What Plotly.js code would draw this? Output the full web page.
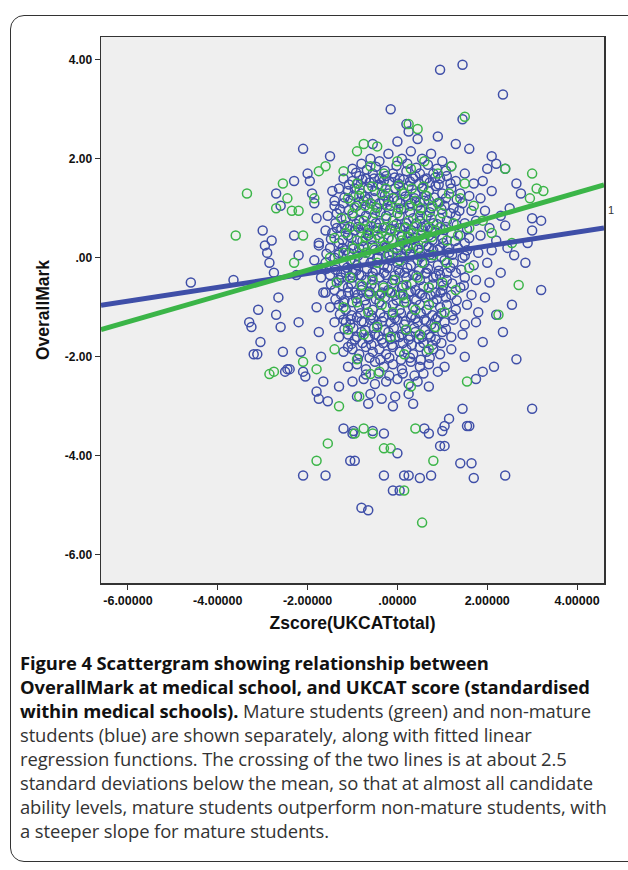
<!DOCTYPE html>
<html>
<head>
<meta charset="utf-8">
<script src="https://cdn.plot.ly/plotly-3.0.1.min.js"></script>
<style>
  body { margin: 0; background: #fff; font-family: "Open Sans", sans-serif; }
  #frame { position: absolute; left: 10px; top: 15px; width: 640px; height: 845px;
           border: 1.5px solid #333; border-radius: 14px; }
  #grafico { position: absolute; left: 0; top: 0; width: 628px; height: 650px; }
  #caption { position: absolute; left: 20px; top: 651px; width: 600px; white-space: nowrap;
             font-size: 18.4px; line-height: 24px; color: #333; letter-spacing: -0.1px; }
  #caption b { color: #111; }
</style>
</head>
<body>
<div id="frame"></div>
<div id="grafico"></div>
<div id="caption"><b>Figure 4 Scattergram showing relationship between<br>OverallMark at medical school, and UKCAT score (standardised<br>within medical schools).</b> Mature students (green) and non-mature<br>students (blue) are shown separately, along with fitted linear<br>regression functions. The crossing of the two lines is at about 2.5<br>standard deviations below the mean, so that at almost all candidate<br>ability levels, mature students outperform non-mature students, with<br>a steeper slope for mature students.</div>
<script>
// non-mature students (blue): [zscore, overall mark]
const bluePts = [
  [-4.6,-0.5],[-3.65,-0.45],[-3.3,-1.3],[-3.25,-1.4],[-3.2,-1.95],[-3.12,-1.95],[-3.05,-1.7],[-3.1,-1.05],
  [-3.0,0.55],[-2.95,0.25],[-2.9,0.1],[-2.85,-0.1],[-2.8,0.35],[-2.75,-0.3],[-2.7,-1.15],[-2.65,-0.8],
  [-2.6,-1.4],[-2.55,-1.9],[-2.5,-2.3],[-2.45,-2.25],[-2.4,-2.25],[-2.7,1.3],[-2.6,1.05],[-2.3,1.55],
  [-2.3,0.45],[-2.25,-0.35],[-2.2,0.05],[-2.2,-1.3],[-2.15,-1.9],[-2.1,-2.3],[-2.05,-2.4],[-2.1,2.2],
  [-2.0,1.7],[-1.95,1.55],[-1.9,1.3],[-1.85,1.1],[-1.8,0.8],[-1.75,0.3],[-1.7,-0.2],[-1.65,-0.7],
  [-1.8,-1.0],[-1.75,-1.5],[-1.7,-2.0],[-1.65,-2.5],[-1.8,-2.7],[-1.75,-2.85],[-1.55,-2.9],[-1.5,2.05],
  [-1.45,1.35],[-1.4,1.05],[-1.35,0.6],[-1.3,0.1],[-1.25,-0.4],[-1.2,-0.9],[-1.15,-1.3],[-1.1,-1.8],
  [-1.3,-2.6],[-1.2,-3.45],[-1.0,-3.55],[-0.98,-3.5],[-1.05,-4.1],[-0.95,-4.1],[-2.1,-4.4],[-1.6,-4.4],
  [-0.8,-5.05],[-0.65,-5.1],[-0.3,-3.55],[-0.55,-3.5],[-0.3,-4.4],[-0.1,-4.7],[0.05,-4.7],[0.0,-3.95],
  [0.15,-4.4],[0.25,-4.4],[0.5,-4.45],[0.75,-4.4],[0.6,-3.45],[0.7,-3.55],[0.95,-3.8],[1.05,-3.8],
  [1.0,-3.5],[1.15,-3.25],[1.05,-3.4],[1.4,-4.15],[1.65,-4.15],[1.7,-4.45],[2.4,-4.4],[1.45,-3.05],
  [1.55,-3.4],[3.0,-3.05],[1.6,-3.4],[2.65,-2.05],[0.95,3.8],[1.45,3.9],[2.35,3.3],[-0.15,3.0],
  [1.45,2.8],[0.2,2.7],[0.25,2.55],[0.9,2.45],[1.3,2.3],[-0.55,2.3],[0.0,2.35],[0.45,2.4],
  [2.0,1.8],[2.2,1.9],[2.4,1.8],[2.65,1.5],[2.75,1.3],[2.5,1.0],[3.0,0.8],[3.0,0.55],
  [2.9,0.3],[2.6,0.05],[2.85,-0.1],[3.2,-0.65],[2.55,-0.95],[2.2,-1.15],[2.35,-1.5],[1.9,-1.7],
  [2.15,-2.2],[1.75,-2.45],[1.9,-2.3],[3.2,0.75],[2.1,2.05],[1.6,2.2],
  // dense core
  [-1.0,1.8],[-0.8,1.9],[-0.6,2.0],[-0.4,1.95],[-0.2,2.1],[0.1,2.0],[0.3,2.15],[0.55,2.0],[0.75,2.1],[1.0,1.95],[1.2,1.85],[1.5,1.7],
  [-1.2,1.6],[-1.0,1.55],[-0.85,1.65],[-0.7,1.6],[-0.55,1.7],[-0.4,1.6],[-0.25,1.65],[-0.1,1.7],[0.05,1.6],[0.2,1.75],[0.35,1.6],[0.5,1.7],[0.65,1.6],[0.8,1.7],[0.95,1.6],[1.1,1.65],[1.3,1.55],[1.7,1.5],[1.9,1.55],
  [-1.3,1.4],[-1.1,1.35],[-0.95,1.4],[-0.8,1.3],[-0.65,1.4],[-0.5,1.35],[-0.35,1.45],[-0.2,1.3],[-0.05,1.4],[0.1,1.35],[0.25,1.45],[0.4,1.3],[0.55,1.4],[0.7,1.35],[0.85,1.45],[1.0,1.3],[1.2,1.4],[1.4,1.3],[1.6,1.25],[1.85,1.2],[2.1,1.35],
  [-1.4,1.15],[-1.2,1.1],[-1.05,1.15],[-0.9,1.05],[-0.75,1.15],[-0.6,1.1],[-0.45,1.0],[-0.3,1.15],[-0.15,1.05],[0.0,1.15],[0.15,1.0],[0.3,1.1],[0.45,1.05],[0.6,1.15],[0.75,1.0],[0.9,1.1],[1.05,1.05],[1.25,1.0],[1.45,1.1],[1.65,0.95],[1.95,0.95],[2.3,0.85],
  [-1.55,0.85],[-1.35,0.9],[-1.15,0.8],[-1.0,0.85],[-0.85,0.75],[-0.7,0.85],[-0.55,0.8],[-0.4,0.7],[-0.25,0.85],[-0.1,0.75],[0.05,0.85],[0.2,0.7],[0.35,0.8],[0.5,0.75],[0.65,0.85],[0.8,0.7],[0.95,0.8],[1.1,0.75],[1.3,0.85],[1.5,0.7],[1.75,0.75],[2.05,0.6],[2.4,0.65],
  [-1.6,0.55],[-1.45,0.5],[-1.25,0.6],[-1.1,0.45],[-0.95,0.55],[-0.8,0.5],[-0.65,0.45],[-0.5,0.55],[-0.35,0.5],[-0.2,0.4],[-0.05,0.55],[0.1,0.45],[0.25,0.5],[0.4,0.4],[0.55,0.55],[0.7,0.45],[0.85,0.5],[1.0,0.4],[1.2,0.5],[1.4,0.45],[1.6,0.4],[1.85,0.45],[2.2,0.35],
  [-1.75,0.25],[-1.5,0.2],[-1.3,0.3],[-1.15,0.15],[-1.0,0.25],[-0.85,0.2],[-0.7,0.1],[-0.55,0.25],[-0.4,0.15],[-0.25,0.2],[-0.1,0.1],[0.05,0.25],[0.2,0.15],[0.35,0.2],[0.5,0.1],[0.65,0.25],[0.8,0.15],[0.95,0.2],[1.15,0.1],[1.35,0.2],[1.55,0.15],[1.8,0.1],[2.1,0.15],[2.45,0.2],
  [-1.85,-0.05],[-1.6,-0.1],[-1.4,0.0],[-1.2,-0.1],[-1.05,-0.05],[-0.9,-0.15],[-0.75,-0.05],[-0.6,-0.1],[-0.45,0.0],[-0.3,-0.15],[-0.15,-0.05],[0.0,-0.1],[0.15,0.0],[0.3,-0.15],[0.45,-0.05],[0.6,-0.1],[0.75,0.0],[0.9,-0.15],[1.05,-0.05],[1.25,-0.1],[1.45,0.0],[1.7,-0.15],[2.0,-0.1],[2.3,-0.3],
  [-1.7,-0.4],[-1.5,-0.35],[-1.3,-0.45],[-1.15,-0.3],[-1.0,-0.4],[-0.85,-0.35],[-0.7,-0.45],[-0.55,-0.3],[-0.4,-0.4],[-0.25,-0.35],[-0.1,-0.45],[0.05,-0.3],[0.2,-0.4],[0.35,-0.35],[0.5,-0.45],[0.65,-0.3],[0.8,-0.4],[0.95,-0.35],[1.1,-0.45],[1.3,-0.3],[1.5,-0.4],[1.75,-0.45],[2.05,-0.5],
  [-1.6,-0.7],[-1.4,-0.65],[-1.25,-0.75],[-1.1,-0.6],[-0.95,-0.7],[-0.8,-0.65],[-0.65,-0.75],[-0.5,-0.6],[-0.35,-0.7],[-0.2,-0.65],[-0.05,-0.75],[0.1,-0.6],[0.25,-0.7],[0.4,-0.65],[0.55,-0.75],[0.7,-0.6],[0.85,-0.7],[1.0,-0.65],[1.2,-0.75],[1.4,-0.6],[1.65,-0.75],[1.95,-0.8],
  [-1.5,-1.0],[-1.3,-0.95],[-1.15,-1.05],[-1.0,-0.9],[-0.85,-1.0],[-0.7,-0.95],[-0.55,-1.05],[-0.4,-0.9],[-0.25,-1.0],[-0.1,-0.95],[0.05,-1.05],[0.2,-0.9],[0.35,-1.0],[0.5,-0.95],[0.65,-1.05],[0.8,-0.9],[0.95,-1.0],[1.1,-0.95],[1.3,-1.05],[1.55,-0.95],[1.8,-1.1],
  [-1.4,-1.3],[-1.2,-1.25],[-1.05,-1.35],[-0.9,-1.2],[-0.75,-1.3],[-0.6,-1.25],[-0.45,-1.35],[-0.3,-1.2],[-0.15,-1.3],[0.0,-1.25],[0.15,-1.35],[0.3,-1.2],[0.45,-1.3],[0.6,-1.25],[0.75,-1.35],[0.9,-1.2],[1.05,-1.3],[1.25,-1.25],[1.5,-1.35],[1.75,-1.3],
  [-1.3,-1.6],[-1.1,-1.55],[-0.95,-1.65],[-0.8,-1.5],[-0.65,-1.6],[-0.5,-1.55],[-0.35,-1.65],[-0.2,-1.5],[-0.05,-1.6],[0.1,-1.55],[0.25,-1.65],[0.4,-1.5],[0.55,-1.6],[0.7,-1.55],[0.85,-1.65],[1.0,-1.5],[1.2,-1.6],[1.45,-1.55],
  [-1.2,-1.9],[-1.0,-1.85],[-0.85,-1.95],[-0.7,-1.8],[-0.55,-1.9],[-0.4,-1.85],[-0.25,-1.95],[-0.1,-1.8],[0.05,-1.9],[0.2,-1.85],[0.35,-1.95],[0.5,-1.8],[0.65,-1.9],[0.8,-1.85],[0.95,-1.95],[1.2,-1.85],[1.5,-2.0],
  [-1.1,-2.2],[-0.9,-2.15],[-0.7,-2.25],[-0.5,-2.1],[-0.3,-2.2],[-0.1,-2.15],[0.1,-2.25],[0.3,-2.1],[0.5,-2.2],[0.7,-2.15],[0.9,-2.3],[1.05,-2.2],
  [-1.0,-2.5],[-0.75,-2.45],[-0.5,-2.55],[-0.25,-2.5],[0.0,-2.45],[0.25,-2.55],[0.45,-2.5],[0.7,-2.6],
  [-0.9,-2.8],[-0.6,-2.75],[-0.35,-2.85],[-0.05,-2.8],[0.25,-2.75],[0.35,-2.95],[-0.65,-2.95],[-0.1,-3.0],
  // second pass over the dark centre of the cloud
  [-0.92,1.72],[-0.68,1.78],[-0.48,1.84],[-0.28,1.76],[-0.02,1.86],[0.22,1.9],[0.42,1.82],[0.68,1.88],[0.88,1.8],[1.08,1.76],
  [-1.08,1.48],[-0.88,1.5],[-0.62,1.52],[-0.42,1.48],[-0.18,1.54],[0.02,1.5],[0.28,1.54],[0.48,1.5],[0.72,1.52],[0.92,1.48],[1.18,1.5],
  [-1.18,1.22],[-0.98,1.26],[-0.72,1.24],[-0.52,1.2],[-0.28,1.26],[-0.08,1.22],[0.18,1.24],[0.38,1.2],[0.62,1.26],[0.82,1.22],[1.08,1.2],[1.32,1.18],
  [-1.28,0.98],[-1.08,0.96],[-0.82,0.94],[-0.62,0.98],[-0.38,0.92],[-0.18,0.96],[0.08,0.98],[0.28,0.92],[0.52,0.96],[0.72,0.92],[0.98,0.98],[1.18,0.9],[1.38,0.95],
  [-1.38,0.7],[-1.18,0.66],[-0.92,0.68],[-0.72,0.64],[-0.48,0.7],[-0.28,0.62],[-0.02,0.68],[0.18,0.62],[0.42,0.7],[0.62,0.64],[0.88,0.68],[1.08,0.62],[1.32,0.66],[1.55,0.58],
  [-1.48,0.38],[-1.22,0.36],[-1.02,0.4],[-0.78,0.34],[-0.58,0.38],[-0.32,0.32],[-0.12,0.36],[0.12,0.3],[0.32,0.36],[0.58,0.32],[0.78,0.36],[1.02,0.3],[1.28,0.34],[1.5,0.3],
  [-1.58,0.08],[-1.32,0.06],[-1.08,0.1],[-0.88,0.04],[-0.62,0.08],[-0.42,0.02],[-0.18,0.06],[0.08,0.04],[0.28,0.08],[0.52,0.02],[0.72,0.06],[0.98,0.02],[1.22,0.06],[1.5,0.04],
  [-1.58,-0.22],[-1.38,-0.24],[-1.12,-0.2],[-0.92,-0.26],[-0.68,-0.22],[-0.48,-0.26],[-0.22,-0.2],[0.02,-0.24],[0.22,-0.2],[0.48,-0.26],[0.68,-0.22],[0.92,-0.26],[1.18,-0.2],[1.42,-0.24],
  [-1.48,-0.54],[-1.22,-0.56],[-1.02,-0.52],[-0.78,-0.58],[-0.58,-0.54],[-0.32,-0.56],[-0.12,-0.52],[0.12,-0.56],[0.32,-0.52],[0.58,-0.58],[0.78,-0.54],[1.02,-0.56],[1.22,-0.52],[1.48,-0.56],
  [-1.38,-0.84],[-1.18,-0.86],[-0.92,-0.82],[-0.72,-0.86],[-0.48,-0.84],[-0.28,-0.8],[-0.02,-0.86],[0.18,-0.82],[0.42,-0.86],[0.62,-0.8],[0.88,-0.84],[1.08,-0.8],[1.32,-0.86],
  [-1.28,-1.14],[-1.02,-1.16],[-0.82,-1.12],[-0.58,-1.16],[-0.38,-1.12],[-0.12,-1.16],[0.08,-1.12],[0.32,-1.16],[0.52,-1.12],[0.78,-1.16],[0.98,-1.12],[1.22,-1.16],
  [-1.18,-1.44],[-0.98,-1.42],[-0.72,-1.46],[-0.52,-1.42],[-0.28,-1.46],[-0.08,-1.42],[0.18,-1.46],[0.38,-1.42],[0.62,-1.46],[0.82,-1.42],[1.08,-1.44],
  [-1.02,-1.74],[-0.78,-1.72],[-0.58,-1.76],[-0.32,-1.72],[-0.12,-1.76],[0.12,-1.72],[0.32,-1.76],[0.58,-1.72],[0.78,-1.76],[0.98,-1.72],
  [-0.88,-2.04],[-0.62,-2.02],[-0.38,-2.06],[-0.18,-2.02],[0.08,-2.06],[0.28,-2.02],[0.52,-2.06],[0.72,-2.02],
  [-0.7,-2.36],[-0.42,-2.34],[-0.18,-2.38],[0.12,-2.34],[0.38,-2.38],[0.58,-2.34],
  // third pass, the solid heart of the cloud
  [-0.78,1.58],[-0.52,1.6],[-0.3,1.56],[-0.06,1.62],[0.14,1.58],[0.4,1.64],[0.6,1.58],[0.84,1.62],
  [-0.86,1.12],[-0.66,1.18],[-0.4,1.1],[-0.2,1.16],[0.06,1.1],[0.24,1.18],[0.5,1.12],[0.7,1.16],[0.94,1.12],
  [-1.12,0.58],[-0.88,0.62],[-0.66,0.56],[-0.44,0.6],[-0.16,0.58],[0.06,0.6],[0.3,0.56],[0.54,0.62],[0.76,0.58],[1.04,0.56],
  [-1.22,0.2],[-0.98,0.18],[-0.76,0.22],[-0.5,0.16],[-0.26,0.22],[0.0,0.16],[0.24,0.2],[0.46,0.16],[0.7,0.22],[0.9,0.16],[1.12,0.2],
  [-1.26,-0.34],[-1.0,-0.3],[-0.8,-0.36],[-0.56,-0.38],[-0.3,-0.3],[-0.06,-0.36],[0.16,-0.3],[0.42,-0.36],[0.62,-0.32],[0.86,-0.36],[1.1,-0.3],
  [-1.1,-0.7],[-0.88,-0.74],[-0.62,-0.68],[-0.4,-0.76],[-0.16,-0.7],[0.06,-0.74],[0.3,-0.68],[0.5,-0.72],[0.74,-0.76],[0.96,-0.7],
  [-1.04,-1.24],[-0.8,-1.28],[-0.54,-1.22],[-0.34,-1.28],[-0.06,-1.22],[0.18,-1.28],[0.4,-1.22],[0.64,-1.28],[0.86,-1.24],
  [-0.9,-1.6],[-0.64,-1.64],[-0.42,-1.58],[-0.16,-1.64],[0.04,-1.6],[0.28,-1.58],[0.48,-1.64],[0.74,-1.6]
];
// mature students (green)
const greenPts = [
  [-3.6,0.45],[-3.35,1.3],[-2.85,-2.35],[-2.75,-2.3],[-2.7,1.0],[-2.55,1.5],[-2.45,1.2],[-2.35,0.95],
  [-2.2,0.95],[-2.1,0.45],[-2.3,-0.1],[-1.85,1.2],[-1.75,1.75],[-1.6,1.85],[-2.1,-2.1],[-1.8,-2.25],
  [-1.3,-3.0],[-1.55,-3.75],[-1.8,-4.1],[-0.85,-2.8],[-0.75,-3.45],[-0.95,-3.55],[-0.55,-3.55],[-0.3,-3.85],
  [-0.15,-3.85],[0.4,-3.45],[0.8,-4.1],[0.15,-4.7],[0.55,-5.35],[1.5,2.85],[0.45,2.6],[0.25,2.7],
  [-0.75,2.3],[-0.45,2.25],[-0.9,2.15],[2.4,1.8],[3.0,1.7],[3.1,1.4],[3.25,1.35],[2.95,1.2],
  [2.1,0.5],[2.7,-0.55],[2.55,0.3],[1.55,-2.5],[2.25,-1.15],[-0.9,-2.05],[-0.4,-2.3],[0.3,-2.6],
  [-1.2,1.75],[-0.9,1.5],[-0.6,1.85],[-0.3,1.7],[0.0,1.95],[0.3,1.8],[0.6,1.95],[0.9,1.7],[1.2,1.85],[1.5,1.5],
  [-1.1,1.2],[-0.85,1.25],[-0.6,1.1],[-0.35,1.3],[-0.1,1.2],[0.15,1.3],[0.4,1.15],[0.65,1.25],[0.9,1.1],[1.15,1.3],[1.4,1.2],[1.7,1.05],
  [-1.25,0.8],[-1.0,0.9],[-0.75,0.75],[-0.5,0.9],[-0.25,0.8],[0.0,0.9],[0.25,0.75],[0.5,0.85],[0.75,0.8],[1.0,0.9],[1.25,0.7],[1.6,0.6],[1.9,0.75],
  [-1.4,0.4],[-1.15,0.5],[-0.9,0.35],[-0.65,0.5],[-0.4,0.4],[-0.15,0.55],[0.1,0.35],[0.35,0.5],[0.6,0.4],[0.85,0.55],[1.1,0.35],[1.35,0.45],
  [-1.5,0.0],[-1.2,0.1],[-0.95,-0.05],[-0.7,0.1],[-0.45,-0.1],[-0.2,0.05],[0.05,-0.05],[0.3,0.1],[0.55,-0.1],[0.8,0.05],[1.1,-0.1],[1.6,-0.2],
  [-1.35,-0.5],[-1.05,-0.4],[-0.8,-0.55],[-0.55,-0.45],[-0.3,-0.6],[-0.05,-0.45],[0.2,-0.55],[0.45,-0.4],[0.7,-0.6],[1.0,-0.5],[1.3,-0.65],
  [-1.2,-1.0],[-0.9,-0.9],[-0.65,-1.1],[-0.35,-0.95],[-0.1,-1.1],[0.15,-0.9],[0.4,-1.05],[0.7,-0.95],[1.05,-1.1],
  [-1.1,-1.45],[-0.75,-1.55],[-0.45,-1.4],[-0.15,-1.6],[0.2,-1.45],[0.5,-1.55],[0.85,-1.4],
  [-1.4,-1.85],[-0.6,-2.35],[0.15,-1.95],[0.7,-1.85],
  // green is thickest just above the lines
  [-0.95,1.02],[-0.72,1.05],[-0.48,1.02],[-0.22,1.06],[0.02,1.0],[0.28,1.05],[0.52,1.0],[0.78,1.04],
  [-1.05,0.62],[-0.82,0.6],[-0.58,0.64],[-0.32,0.6],[-0.08,0.65],[0.18,0.6],[0.42,0.64],[0.68,0.6],[0.95,0.62],
  [-0.98,0.2],[-0.75,0.24],[-0.52,0.2],[-0.28,0.25],[-0.02,0.2],[0.22,0.24],[0.48,0.2],
  [-0.62,-0.72],[-0.38,-0.75],[-0.12,-0.7],[0.12,-0.76],
  [-0.84,1.38],[-0.56,1.44],[-0.26,1.4],[0.04,1.46],[0.32,1.4],[0.58,1.44],
  [-0.7,0.42],[-0.44,0.46],[-0.2,0.4],[0.04,0.46],[0.26,0.42],[0.52,0.46],[0.76,0.42]
];
// fitted regression lines, end points
const lineX = [-6.6, 4.6];
const blueLineY = [-0.96, 0.6];
const greenLineY = [-1.45, 1.47];
const xTicks = [-6, -4, -2, 0, 2, 4];
const xTickText = ['-6.00000', '-4.00000', '-2.00000', '.00000', '2.00000', '4.00000'];
const yTicks = [4, 2, 0, -2, -4, -6];
const yTickText = ['4.00', '2.00', '.00', '-2.00', '-4.00', '-6.00'];

const blue = '#3f4fa8';
const green = '#3bb548';

function nube(pts, color) {
  return {
    x: pts.map(p => p[0]), y: pts.map(p => p[1]),
    type: 'scatter', mode: 'markers', hoverinfo: 'skip',
    marker: { symbol: 'circle-open', size: 9, color: color, line: { width: 1.5, color: color } }
  };
}

const data = [
  nube(bluePts, blue),
  nube(greenPts, green),
  { x: lineX, y: blueLineY, type: 'scatter', mode: 'lines', line: { color: blue, width: 5 } },
  { x: lineX, y: greenLineY, type: 'scatter', mode: 'lines', line: { color: green, width: 5 } }
];

const layout = {
  width: 628, height: 650,
  margin: { l: 101, r: 24, t: 37, b: 67 },
  showlegend: false,
  paper_bgcolor: 'rgba(0,0,0,0)',
  plot_bgcolor: '#efefef',
  font: { family: 'Liberation Sans, Arial, sans-serif', color: '#111' },
  xaxis: {
    range: [-6.6, 4.6], tickvals: xTicks, ticktext: xTickText,
    ticks: 'outside', ticklen: 5, tickcolor: '#333', showgrid: false, zeroline: false,
    showline: true, linecolor: '#333', mirror: true, linewidth: 1.5,
    tickfont: { size: 12.5, family: 'Liberation Sans', weight: 'bold' },
    title: { text: '<b>Zscore(UKCATtotal)</b>', font: { size: 17.5, family: 'Liberation Sans' }, standoff: 10 }
  },
  yaxis: {
    range: [-6.57, 4.46], tickvals: yTicks, ticktext: yTickText,
    ticks: 'outside', ticklen: 5, tickcolor: '#333', showgrid: false, zeroline: false,
    showline: true, linecolor: '#333', mirror: true, linewidth: 1.5,
    tickfont: { size: 12, family: 'Liberation Sans', weight: 'bold' },
    title: { text: '<b>OverallMark</b>', font: { size: 17.5, family: 'Liberation Sans' }, standoff: 10 }
  },
  annotations: [{ x: 1.003, y: 0.96, xref: 'paper', yref: 'y', text: '1', showarrow: false,
                  xanchor: 'left', font: { size: 11, color: '#333' } }]
};

Plotly.newPlot('grafico', data, layout, { displayModeBar: false, staticPlot: true });
</script>
</body>
</html>
